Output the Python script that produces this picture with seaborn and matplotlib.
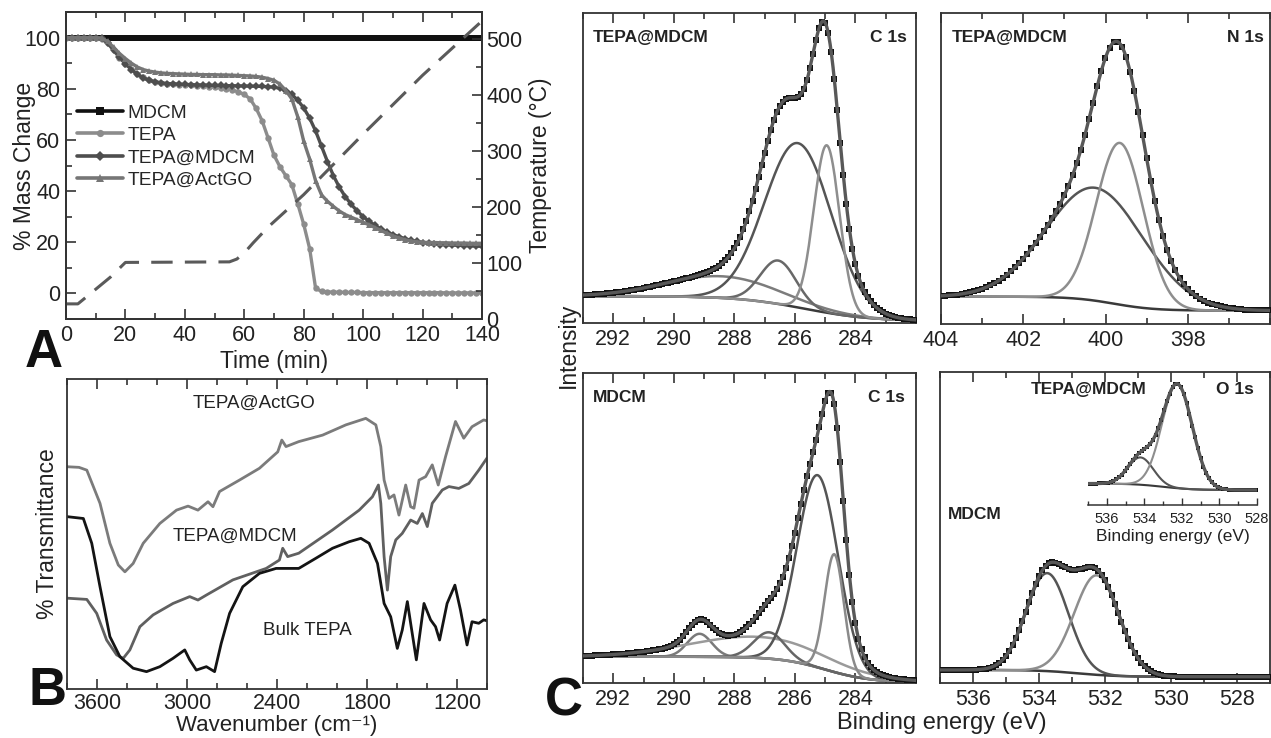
import numpy as np
import matplotlib
matplotlib.use("Agg")
import matplotlib.pyplot as plt
from matplotlib.ticker import MultipleLocator, FixedLocator
from matplotlib.lines import Line2D
import seaborn as sns

sns.set_theme(style="ticks")
plt.rcParams["font.family"] = ["Liberation Sans", "DejaVu Sans"]

# ---------------- A: thermogravimetry ----------------
time_min = list(range(0, 141, 2))
mass_mdcm = [100.0] * 71
mass_tepa = [
    100.0, 100.0, 100.0, 100.0, 100.0, 100.0, 99.6, 97.8, 95.0, 92.2,
    89.8, 87.6, 85.8, 84.4, 83.4, 82.7, 82.3, 82.0, 81.8, 81.6,
    81.5, 81.3, 81.1, 81.0, 80.8, 80.6, 80.3, 80.0, 79.5, 78.8,
    77.8, 76.0, 72.3, 67.5, 60.8, 54.0, 49.5, 46.0, 42.5, 35.0,
    27.0, 17.5, 2.0, 0.8, 0.6, 0.5, 0.5, 0.4, 0.4, 0.4,
    0.3, 0.3, 0.3, 0.3, 0.3, 0.3, 0.3, 0.3, 0.3, 0.3,
    0.3, 0.3, 0.3, 0.3, 0.2, 0.2, 0.2, 0.2, 0.2, 0.2,
    0.2]
mass_tepa_mdcm = [
    100.0, 100.0, 100.0, 100.0, 100.0, 100.0, 99.7, 98.0, 95.2, 92.3,
    89.8, 87.5, 85.6, 84.2, 83.3, 82.7, 82.3, 82.0, 81.9, 81.8,
    81.7, 81.6, 81.5, 81.5, 81.4, 81.3, 81.3, 81.2, 81.2, 81.1,
    81.1, 81.0, 81.0, 80.9, 80.8, 80.6, 80.2, 79.3, 77.8, 75.5,
    72.5, 68.5, 63.5, 57.5, 51.5, 46.0, 41.5, 37.8, 34.8, 32.2,
    30.0, 28.2, 26.6, 25.2, 24.0, 23.0, 22.2, 21.4, 20.8, 20.3,
    19.9, 19.6, 19.3, 19.1, 19.0, 18.9, 18.8, 18.7, 18.6, 18.5,
    18.4]
mass_tepa_actgo = [
    100.0, 100.0, 100.0, 100.0, 100.0, 100.0, 99.8, 98.5, 96.2, 93.8,
    91.8, 90.0, 88.5, 87.5, 86.9, 86.5, 86.2, 86.0, 85.9, 85.8,
    85.7, 85.6, 85.6, 85.5, 85.5, 85.5, 85.4, 85.4, 85.3, 85.2,
    85.1, 85.0, 84.8, 84.5, 84.0, 83.3, 81.8, 79.3, 76.0, 69.0,
    59.5, 52.5, 44.0, 38.5, 36.0, 34.0, 32.2, 30.8, 29.8, 28.8,
    27.8, 26.8, 25.7, 24.6, 23.5, 22.5, 21.7, 21.0, 20.5, 20.2,
    20.0, 19.9, 19.9, 19.8, 19.8, 19.7, 19.7, 19.7, 19.6, 19.6,
    19.6]
temp_time = [0, 4, 7, 15, 20, 55, 57.5, 60, 63, 68, 80, 100, 120, 140]
temp_c = [27, 27, 40, 75, 101, 102, 107, 118, 136, 164, 222, 330, 435, 532]
tga_labels = ["MDCM", "TEPA", "TEPA@MDCM", "TEPA@ActGO"]

# ---------------- B: FTIR ----------------
wn_actgo = [3800, 3720, 3668, 3580, 3514, 3458, 3414, 3359, 3292, 3181, 3070,
            2993, 2927, 2860, 2827, 2783, 2650, 2517, 2395, 2368, 2340,
            2255, 2096, 1941, 1808, 1741, 1708, 1686, 1653, 1620, 1587,
            1542, 1509, 1487, 1453, 1409, 1365, 1325, 1276, 1210, 1155,
            1100, 1022, 1000]
tr_actgo = [71.7, 71.5, 70.6, 59.9, 47.0, 40.0, 37.8, 40.5, 47.0, 53.4, 57.7,
            59.0, 57.7, 60.4, 58.8, 63.7, 67.4, 71.2, 76.5, 80.3, 78.2,
            79.8, 81.9, 85.2, 87.3, 85.2, 78.2, 67.4, 61.5, 62.6, 56.1,
            65.8, 58.8, 58.3, 67.4, 68.5, 72.3, 65.8, 75.0, 86.3, 80.9,
            84.6, 86.8, 86.5]
wn_mdcm = [3800, 3668, 3602, 3536, 3469, 3425, 3381, 3314, 3226, 3093,
           2982, 2927, 2871, 2694, 2472, 2384, 2362, 2329, 2255, 2030,
           1852, 1764, 1724, 1708, 1686, 1664, 1642, 1608, 1565, 1509,
           1465, 1431, 1398, 1365, 1298, 1254, 1188, 1121, 1055, 1000]
tr_mdcm = [29.3, 28.9, 24.4, 15.8, 11.0, 9.9, 12.6, 20.1, 23.9, 27.6,
           29.8, 28.7, 30.3, 35.2, 38.9, 41.6, 45.4, 42.7, 43.8, 51.3,
           57.7, 62.0, 65.8, 59.9, 42.7, 31.9, 42.7, 48.1, 50.2, 54.5,
           53.4, 56.6, 52.4, 59.9, 64.2, 65.3, 64.7, 66.3, 70.6, 74.5]
wn_bulk = [3800, 3691, 3635, 3580, 3514, 3447, 3359, 3270, 3181, 3093,
           3015, 2982, 2938, 2871, 2816, 2772, 2716, 2628, 2517, 2406,
           2255, 2140, 2030, 1919, 1841, 1786, 1730, 1686, 1642, 1598,
           1565, 1531, 1509, 1471, 1420, 1376, 1343, 1316, 1266, 1214,
           1177, 1133, 1100, 1055, 1022, 1000]
tr_bulk = [55.6, 55.0, 47.0, 33.0, 16.9, 10.4, 6.7, 5.6, 7.2, 9.9,
           12.6, 9.4, 6.1, 7.2, 5.6, 14.7, 24.4, 33.0, 37.3, 38.9,
           38.9, 42.2, 45.4, 47.5, 48.6, 47.0, 40.5, 27.6, 23.3, 13.1,
           19.0, 28.2, 21.2, 9.4, 27.6, 22.3, 20.1, 15.8, 27.6, 33.5,
           25.5, 14.2, 21.7, 21.2, 22.3, 22.0]
ftir_labels = ["TEPA@ActGO", "TEPA@MDCM", "Bulk TEPA"]

# ---------------- C: XPS peak fits (centre eV, height, FWHM eV) ----------------
# background: [level at high BE, level at low BE, step midpoint, step width]
c1s_tepa_center = [288.4, 285.9, 286.55, 284.95]
c1s_tepa_height = [7.0, 53.0, 14.0, 54.0]
c1s_tepa_fwhm = [4.4, 2.6, 1.4, 1.0]
c1s_tepa_background = [8.7, 0.6, 285.7, 1.1]

n1s_tepa_center = [400.25, 399.65]
n1s_tepa_height = [36.3, 52.0]
n1s_tepa_fwhm = [2.8, 1.35]
n1s_tepa_background = [8.8, 4.3, 399.8, 0.5]

c1s_mdcm_center = [289.15, 287.2, 286.85, 285.25, 284.7]
c1s_mdcm_height = [7.4, 6.8, 8.5, 62.0, 38.0]
c1s_mdcm_fwhm = [0.95, 5.3, 1.2, 1.6, 0.75]
c1s_mdcm_background = [8.5, 0.2, 285.0, 0.75]

o1s_mdcm_center = [533.75, 532.25]
o1s_mdcm_height = [31.5, 32.0]
o1s_mdcm_fwhm = [1.5, 1.6]
o1s_mdcm_background = [4.2, 2.0, 532.8, 0.6]

o1s_tepa_center = [534.2, 532.25]
o1s_tepa_height = [21.0, 80.0]
o1s_tepa_fwhm = [1.6, 1.9]
o1s_tepa_background = [16.5, 11.5, 533.0, 0.8]

# ---------------- figure layout (pixel boxes) ----------------
W, H = 1271, 738
fig = plt.figure(figsize=(W / 100, H / 100), dpi=100)
EDGE = "#333333"
TXT = "#222222"
TICK_FS = 15.5
LABEL_FS = 16.5


def px_axes(l, t, r, b):
    return fig.add_axes([l / W, 1 - b / H, (r - l) / W, (b - t) / H])


def style_box(ax, labelsize=TICK_FS, pad=4):
    for s in ax.spines.values():
        s.set_linewidth(1.3)
        s.set_color(EDGE)
    ax.tick_params(which="both", direction="in", color=EDGE, labelcolor=TXT,
                   width=1.2, labelsize=labelsize, pad=pad)
    ax.tick_params(which="major", length=7)
    ax.tick_params(which="minor", length=4)


# ---- A ----
axA = px_axes(66, 12, 482, 319)
style_box(axA)
tga_series = [mass_mdcm, mass_tepa, mass_tepa_mdcm, mass_tepa_actgo]
tga_colors = ["#111111", "#8c8c8c", "#4e4e4e", "#767676"]
tga_markers = ["s", "o", "D", "^"]
tga_msize = [4.8, 4.6, 4.2, 5.0]
handles = []
for vals, col, mk, ms in zip(tga_series, tga_colors, tga_markers, tga_msize):
    sns.lineplot(x=time_min, y=vals, ax=axA, color=col, lw=2.4, marker=mk,
                 markersize=ms, markeredgewidth=0, markeredgecolor=col,
                 legend=False)
    handles.append(Line2D([], [], color=col, lw=2.6, marker=mk, markersize=ms + 0.6,
                          markeredgewidth=0))
axA.set_xlim(0, 140)
axA.set_ylim(-10, 110)
axA.xaxis.set_major_locator(MultipleLocator(20))
axA.xaxis.set_minor_locator(MultipleLocator(10))
axA.yaxis.set_major_locator(MultipleLocator(20))
axA.yaxis.set_minor_locator(MultipleLocator(10))
axA.tick_params(which="both", top=True, right=False)
axA.set_xlabel("Time (min)", fontsize=LABEL_FS, color=TXT)
axA.set_ylabel("% Mass Change", fontsize=LABEL_FS, color=TXT)
axA.xaxis.set_label_coords(0.5, -0.1)
axA.yaxis.set_label_coords(-0.072, 0.5)
axA.legend(handles, tga_labels, loc="upper left", bbox_to_anchor=(0.026, 0.70),
           frameon=False, fontsize=13.8, handlelength=2.4, handletextpad=0.25,
           labelspacing=0.26, borderpad=0, borderaxespad=0)

axT = axA.twinx()
sns.lineplot(x=temp_time, y=temp_c, ax=axT, color="#5a5a5a", lw=2.2,
             linestyle=(0, (7, 4)), legend=False)
axT.set_ylim(0, 548)
axT.yaxis.set_major_locator(MultipleLocator(100))
axT.yaxis.set_minor_locator(MultipleLocator(50))
for s in axT.spines.values():
    s.set_linewidth(1.3)
    s.set_color(EDGE)
axT.tick_params(which="both", direction="in", color=EDGE, labelcolor=TXT,
                width=1.2, labelsize=TICK_FS, pad=3, left=False, right=True)
axT.tick_params(which="major", length=7)
axT.tick_params(which="minor", length=4)
axT.set_ylabel("Temperature (°C)", fontsize=LABEL_FS, color=TXT)
axT.yaxis.set_label_coords(1.112, 0.5)

# ---- B ----
axB = px_axes(67, 379, 487, 689)
style_box(axB, pad=3)
ftir_series = [(wn_actgo, tr_actgo), (wn_mdcm, tr_mdcm), (wn_bulk, tr_bulk)]
ftir_colors = ["#7b7b7b", "#606060", "#141414"]
for (wn, tr), col in zip(ftir_series, ftir_colors):
    sns.lineplot(x=wn, y=tr, ax=axB, color=col, lw=2.0, legend=False)
axB.set_xlim(3800, 1000)
axB.set_ylim(0, 100)
axB.xaxis.set_major_locator(FixedLocator([3600, 3000, 2400, 1800, 1200]))
axB.xaxis.set_minor_locator(MultipleLocator(200))
axB.set_yticks([])
axB.tick_params(which="both", top=True)
axB.set_xlabel("Wavenumber (cm\u207b\u00b9)", fontsize=16, color=TXT)
axB.set_ylabel("% Transmittance", fontsize=LABEL_FS, color=TXT)
axB.xaxis.set_label_coords(0.5, -0.083)
axB.yaxis.set_label_coords(-0.018, 0.5)
ftir_text_pos = [(2553, 90.6), (2680, 47.7), (2197, 17.4)]
for lab, (x, y) in zip(ftir_labels, ftir_text_pos):
    axB.text(x, y, lab, ha="center", va="baseline", fontsize=13.5, color=TXT)

# ---- C ----
BG_COLOR = "#3a3a3a"
ENV_COLOR = "#585858"


def gaussian(x, c, h, w):
    return h * np.exp(-4 * np.log(2) * ((x - c) / w) ** 2)


def step_background(x, hi, lo, mid, width):
    return lo + (hi - lo) / (1 + np.exp(-(x - mid) / width))


def xps_panel(ax, lo, hi, step, centers, heights, fwhms, bg, colors,
              msize=16, lw=1.8):
    fine = np.linspace(lo, hi, 800)
    pts = np.arange(lo, hi + 1e-6, step)
    base_f = step_background(fine, *bg)
    base_p = step_background(pts, *bg)
    env_f = base_f.copy()
    env_p = base_p.copy()
    sns.lineplot(x=fine, y=base_f, ax=ax, color=BG_COLOR, lw=lw, legend=False)
    for c, h, w, col in zip(centers, heights, fwhms, colors):
        pk = gaussian(fine, c, h, w)
        env_f += pk
        env_p += gaussian(pts, c, h, w)
        sns.lineplot(x=fine, y=base_f + pk, ax=ax, color=col, lw=lw, legend=False)
    sns.scatterplot(x=pts, y=env_p, ax=ax, marker="s", s=msize, color="#111111",
                    linewidth=0, zorder=3, legend=False)
    sns.lineplot(x=fine, y=env_f, ax=ax, color=ENV_COLOR, lw=2.4, legend=False,
                 zorder=4)


def xps_axes(ax, xlim, majors):
    style_box(ax)
    ax.set_xlim(*xlim)
    ax.set_ylim(0, 100)
    ax.xaxis.set_major_locator(FixedLocator(majors))
    ax.xaxis.set_minor_locator(MultipleLocator(1))
    ax.set_yticks([])
    ax.tick_params(which="both", top=True, left=False, right=False)
    ax.set_xlabel("")
    ax.set_ylabel("")


BOLD = dict(fontsize=12.5, fontweight="bold", color=TXT)

axC1 = px_axes(583, 13, 916, 323)
xps_panel(axC1, 282.0, 293.0, 0.1, c1s_tepa_center, c1s_tepa_height,
          c1s_tepa_fwhm, c1s_tepa_background,
          ["#7c7c7c", "#555555", "#686868", "#8e8e8e"])
xps_axes(axC1, (293, 282), [284, 286, 288, 290, 292])
axC1.text(0.03, 0.907, "TEPA@MDCM", transform=axC1.transAxes, ha="left",
          va="baseline", **BOLD)
axC1.text(0.972, 0.907, "C 1s", transform=axC1.transAxes, ha="right",
          va="baseline", **BOLD)

axC2 = px_axes(941, 13, 1270, 324)
xps_panel(axC2, 396.0, 404.0, 0.1, n1s_tepa_center, n1s_tepa_height,
          n1s_tepa_fwhm, n1s_tepa_background, ["#555555", "#8e8e8e"])
xps_axes(axC2, (404, 396), [398, 400, 402, 404])
axC2.text(0.033, 0.908, "TEPA@MDCM", transform=axC2.transAxes, ha="left",
          va="baseline", **BOLD)
axC2.text(0.98, 0.908, "N 1s", transform=axC2.transAxes, ha="right",
          va="baseline", **BOLD)

axC3 = px_axes(583, 373, 916, 683)
xps_panel(axC3, 282.0, 293.0, 0.1, c1s_mdcm_center, c1s_mdcm_height,
          c1s_mdcm_fwhm, c1s_mdcm_background,
          ["#7a7a7a", "#9a9a9a", "#666666", "#555555", "#8a8a8a"])
xps_axes(axC3, (293, 282), [284, 286, 288, 290, 292])
axC3.text(0.03, 0.907, "MDCM", transform=axC3.transAxes, ha="left",
          va="baseline", **BOLD)
axC3.text(0.967, 0.907, "C 1s", transform=axC3.transAxes, ha="right",
          va="baseline", **BOLD)

axC4 = px_axes(940, 372, 1270, 683)
xps_panel(axC4, 527.0, 537.0, 0.1, o1s_mdcm_center, o1s_mdcm_height,
          o1s_mdcm_fwhm, o1s_mdcm_background, ["#555555", "#8e8e8e"])
xps_axes(axC4, (537, 527), [528, 530, 532, 534, 536])
axC4.text(532.5, 92.9, "TEPA@MDCM", ha="center", va="baseline", **BOLD)
axC4.text(527.5, 92.9, "O 1s", ha="right", va="baseline", **BOLD)
axC4.text(536.76, 52.6, "MDCM", ha="left", va="baseline", **BOLD)

axIn = px_axes(1088, 375, 1257, 505)
axIn.patch.set_alpha(0)
xps_panel(axIn, 528.0, 537.0, 0.15, o1s_tepa_center, o1s_tepa_height,
          o1s_tepa_fwhm, o1s_tepa_background, ["#555555", "#8e8e8e"],
          msize=9, lw=1.5)
axIn.set_xlim(537, 528)
axIn.set_ylim(0, 100)
for side in ["top", "left", "right"]:
    axIn.spines[side].set_visible(False)
axIn.spines["bottom"].set_color(EDGE)
axIn.spines["bottom"].set_linewidth(1.1)
axIn.xaxis.set_major_locator(FixedLocator([528, 530, 532, 534, 536]))
axIn.xaxis.set_minor_locator(MultipleLocator(1))
axIn.set_yticks([])
axIn.tick_params(which="both", direction="in", color=EDGE, labelcolor=TXT,
                 width=1.0, labelsize=10.5, pad=5, left=False)
axIn.tick_params(which="major", length=5)
axIn.tick_params(which="minor", length=3)
axIn.set_ylabel("")
axIn.set_xlabel("Binding energy (eV)", fontsize=12.5, color=TXT, labelpad=2)

# shared labels of panel C
fig.text(568 / W, 1 - 345 / H, "Intensity", rotation=90, ha="center",
         va="center", fontsize=LABEL_FS, color=TXT)
fig.text(942 / W, 1 - 723 / H, "Binding energy (eV)", ha="center",
         va="center", fontsize=LABEL_FS + 0.5, color=TXT)

# panel letters
for letter, (x, y) in zip("ABC", [(44, 367), (47, 705), (564, 716)]):
    fig.text(x / W, 1 - y / H, letter, ha="center", va="baseline",
             fontsize=38, fontweight="bold", color="#111111")

fig.savefig("out.png", dpi=100)
